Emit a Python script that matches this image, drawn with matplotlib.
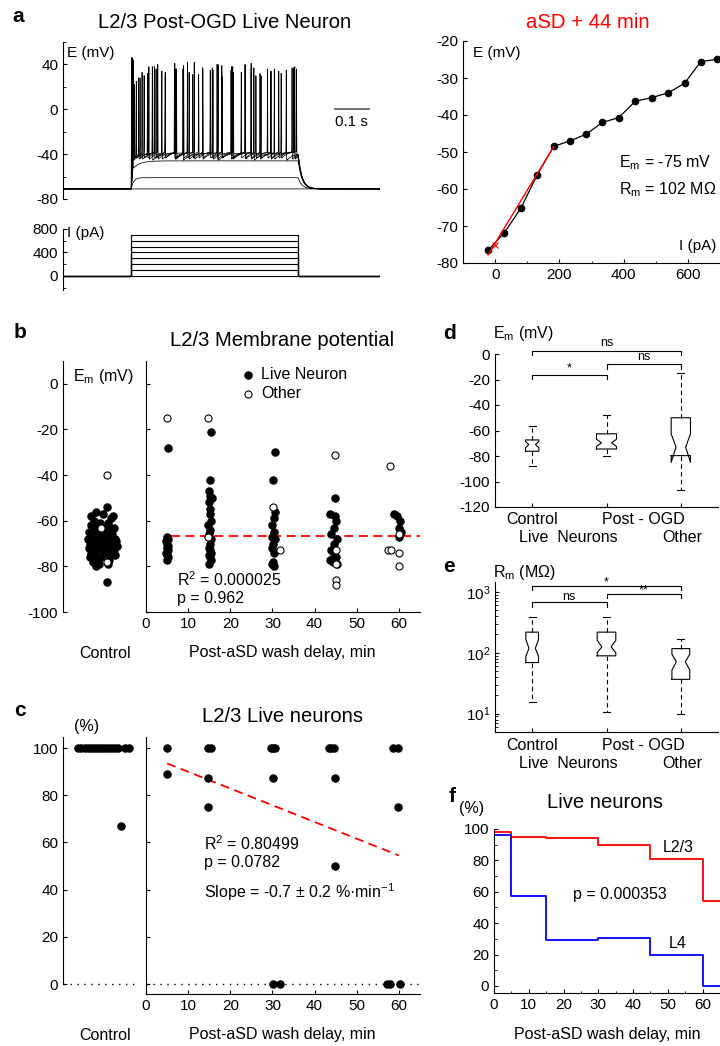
import numpy as np
import matplotlib.pyplot as plt
from matplotlib.ticker import MultipleLocator

plt.rcParams['font.family'] = ['Liberation Sans', 'DejaVu Sans']
plt.rcParams['mathtext.fontset'] = 'custom'
plt.rcParams['mathtext.rm'] = 'Liberation Sans'
plt.rcParams['mathtext.it'] = 'Liberation Sans:italic'
plt.rcParams['mathtext.bf'] = 'Liberation Sans:bold'
plt.rcParams['axes.unicode_minus'] = False
plt.rcParams['font.size'] = 11
plt.rcParams['xtick.direction'] = 'in'
plt.rcParams['ytick.direction'] = 'in'
plt.rcParams['xtick.major.size'] = 3
plt.rcParams['ytick.major.size'] = 3
plt.rcParams['xtick.minor.size'] = 1.8
plt.rcParams['ytick.minor.size'] = 1.8
plt.rcParams['axes.linewidth'] = 0.8

W, H = 720, 1046

# --- a: протокол стимуляції ---
t_on, t_off, t_end = 0.2, 0.69, 0.93
v_rest = -71
i_steps = [0, 100, 200, 300, 400, 500, 600, 700]
v_plat = [-71, -61, -46, -39, -38, -38, -37, -37]
spike_t = [
    [],
    [],
    [0.205],
    [0.206, 0.262, 0.352, 0.455, 0.560, 0.655],
    [0.204, 0.232, 0.278, 0.330, 0.385, 0.440, 0.498, 0.552, 0.610, 0.672],
    [0.203, 0.222, 0.252, 0.290, 0.328, 0.370, 0.410, 0.452, 0.493, 0.535, 0.578, 0.620, 0.680],
    [0.202, 0.215, 0.238, 0.268, 0.300, 0.333, 0.365, 0.398, 0.432, 0.466, 0.500, 0.534,
     0.566, 0.600, 0.633, 0.677],
    [0.201, 0.210, 0.226, 0.248, 0.273, 0.300, 0.327, 0.354, 0.381, 0.410, 0.438, 0.467,
     0.495, 0.523, 0.552, 0.581, 0.610, 0.640, 0.685],
]
spike_pk = [
    [],
    [],
    [44],
    [44, 38, 36, 40, 37, 35],
    [45, 33, 40, 36, 42, 35, 38, 41, 34, 37],
    [46, 28, 38, 34, 41, 33, 37, 40, 35, 39, 32, 36, 38],
    [45, 25, 30, 38, 33, 36, 42, 31, 35, 39, 33, 40, 30, 36, 34, 37],
    [46, 22, 28, 32, 36, 30, 34, 39, 31, 35, 37, 29, 38, 33, 36, 30, 34, 32, 36],
]

# --- a: I-V крива ---
iv_i = [-22, 29, 80, 131, 182, 233, 283, 334, 385, 436, 488, 539, 590, 640, 692]
iv_v = [-76.6, -71.8, -65.2, -56.2, -48.5, -47.0, -45.2, -42.0, -40.7, -36.3,
        -35.3, -34.0, -31.4, -25.6, -24.9]
ivfit_i = [-22, 182]
ivfit_v = [-77.8, -48.6]

# --- b: мембранний потенціал ---
ctrl_em = [-54, -56, -57, -58, -59, -60, -61, -61, -62, -63, -63, -64, -64, -65, -65,
           -66, -66, -67, -67, -68, -68, -68, -69, -69, -70, -70, -70, -71, -71, -71,
           -72, -72, -72, -73, -73, -74, -74, -75, -75, -76, -76, -77, -77, -78, -79,
           -79, -80, -87, -69, -66, -73, -75, -62, -71, -58]
ctrl_jit = [0.57, 0.43, 0.52, 0.65, 0.62, 0.40, 0.48, 0.58, 0.36, 0.55, 0.66, 0.42, 0.60,
            0.34, 0.50, 0.45, 0.63, 0.38, 0.56, 0.33, 0.47, 0.68, 0.41, 0.59, 0.35, 0.52,
            0.64, 0.39, 0.49, 0.61, 0.34, 0.46, 0.57, 0.43, 0.66, 0.37, 0.54, 0.41, 0.62,
            0.35, 0.50, 0.44, 0.60, 0.39, 0.47, 0.58, 0.43, 0.57, 0.69, 0.55, 0.51, 0.67,
            0.45, 0.70, 0.36]
ctrl_oth_em = [-40, -78, -63]
ctrl_oth_jit = [0.57, 0.57, 0.50]

live_t = [5.2, 4.9, 5.3, 4.8, 5.1, 5.3, 4.9, 5.2, 4.8, 5.0, 5.3, 5.1,
          15.4, 15.3, 15.0, 15.2, 15.6, 14.9, 15.3, 15.1, 15.5, 14.8, 15.2, 15.0, 15.4,
          15.1, 14.9, 15.3, 15.5, 15.0, 15.2, 15.4, 14.9,
          30.5, 30.1, 30.6, 30.3, 29.9, 30.4, 30.0, 30.6, 30.2, 29.9, 30.4, 30.1, 29.8, 30.3,
          44.9, 43.6, 44.8, 45.1, 44.5, 43.8, 45.2, 44.6, 43.9, 44.7, 45.0, 43.7, 44.4, 45.3,
          58.8, 59.6, 60.2, 59.9, 60.4, 60.0]
live_em = [-28, -67, -68, -69, -70, -71, -72, -73, -74, -75, -76, -77,
           -21, -42, -47, -49, -50, -52, -55, -57, -60, -62, -64, -66, -68, -70, -72, -73,
           -74, -75, -76, -77, -79,
           -30, -42, -56, -59, -62, -65, -67, -68, -70, -72, -74, -78, -79, -80,
           -50, -57, -58, -60, -63, -66, -68, -70, -73, -75, -76, -77, -78, -79,
           -57, -58, -60, -63, -65, -67]
oth_t = [5.1, 14.8, 14.8, 30.2, 31.8, 44.8, 45.0, 45.0, 45.0, 45.0, 57.9, 60.0, 57.4,
         58.2, 60.1, 60.0]
oth_em = [-15, -15, -67, -54, -73, -31, -73, -79, -86, -88, -36, -66, -73, -73, -74, -80]
bfit_t = [6, 65]
bfit_em = [-66.5, -66.5]

# --- c: частка живих нейронів ---
ctrl_pct = [100, 100, 100, 100, 100, 100, 100, 100, 100, 100, 100, 100, 100, 100, 100, 100, 67]
ctrl_pct_jit = [0.20, 0.24, 0.28, 0.32, 0.36, 0.40, 0.44, 0.48, 0.52, 0.56, 0.60, 0.64,
                0.68, 0.72, 0.80, 0.86, 0.75]
pct_t = [4.9, 4.9, 14.8, 15.4, 14.8, 14.8, 29.7, 30.2, 30.7, 30.2, 30.2, 31.7,
         43.4, 44.0, 44.6, 44.8, 44.8, 58.5, 59.7, 59.8, 57.1, 57.9, 60.3]
pct_val = [100, 89, 100, 100, 87.5, 75, 100, 100, 100, 87.5, 0, 0,
           100, 100, 100, 87.5, 50, 100, 100, 75, 0, 0, 0]
cfit_t = [5, 60]
cfit_pct = [93.5, 54.5]

# --- d, e: боксплоти ---
groups = ['Control', 'Post-OGD live', 'Post-OGD other']
em_box = [
    dict(whishi=-56.6, q3=-67.4, cihi=-68.5, med=-71.0, cilo=-73.5, q1=-76.3, whislo=-87.6),
    dict(whishi=-47.6, q3=-62.6, cihi=-66.8, med=-69.7, cilo=-72.5, q1=-74.5, whislo=-79.7),
    dict(whishi=-15.0, q3=-50.0, cihi=-62.6, med=-73.0, cilo=-85.0, q1=-79.7, whislo=-106.6),
]
rm_box = [
    dict(whishi=390, q3=218, cihi=165, med=118, cilo=88, q1=69, whislo=15.6),
    dict(whishi=380, q3=218, cihi=160, med=125, cilo=100, q1=89, whislo=10.5),
    dict(whishi=167, q3=117, cihi=95, med=71, cilo=52, q1=36.6, whislo=9.8),
]
em_widths = [0.18, 0.27, 0.26]
rm_widths = [0.17, 0.25, 0.24]

# --- f: криві виживання ---
km_t = [0, 5, 15, 30, 45, 60, 65]
km_l23 = [98, 95, 94, 90, 81, 54, 54]
km_l4 = [96, 57, 29.5, 30.5, 20, 0, 0]


fig = plt.figure(figsize=(W / 100, H / 100), dpi=100)


def px_axes(x0, y0, x1, y1):
    return fig.add_axes([x0 / W, 1 - y1 / H, (x1 - x0) / W, (y1 - y0) / H])


def ftext(x, y, s, **kw):
    kw.setdefault('ha', 'center')
    kw.setdefault('va', 'center')
    fig.text(x / W, 1 - y / H, s, **kw)


def clean(ax, bottom=True):
    ax.spines['top'].set_visible(False)
    ax.spines['right'].set_visible(False)
    if not bottom:
        ax.spines['bottom'].set_visible(False)
        ax.set_xticks([])


# ================= a (ліва) =================
t = np.arange(0, t_end, 0.0002)
axv = px_axes(63, 42, 380, 199)
for vp, sts, pks in zip(v_plat, spike_t, spike_pk):
    v = np.full(t.size, float(v_rest))
    on = (t >= t_on) & (t < t_off)
    v[on] = v_rest + (vp - v_rest) * (1 - np.exp(-(t[on] - t_on) / 0.007))
    for ts, pk in zip(sts, pks):
        seg = on & (t >= ts)
        v[seg] = vp - 7 * np.exp(-(t[seg] - ts) / 0.02)
        v += (pk - (vp - 7)) * np.exp(-((t - ts) / 0.0006) ** 2)
    off = t >= t_off
    v_end = v[~off][-1]
    v[off] = v_rest + (v_end - v_rest) * np.exp(-(t[off] - t_off) / 0.011)
    axv.plot(t, v, color='k', lw=0.55)
axv.set_xlim(0, t_end)
axv.set_ylim(-80, 60)
axv.set_yticks([-80, -40, 0, 40])
axv.yaxis.set_minor_locator(MultipleLocator(20))
clean(axv, bottom=False)
axv.plot([0.797, 0.897], [0, 0], color='#555555', lw=1.2)
axv.text(0.847, -5, '0.1 s', ha='center', va='top')
ftext(67, 53, 'E (mV)', ha='left')

axi = px_axes(63, 229, 380, 290)
for lev in i_steps:
    axi.plot([0, t_on, t_on, t_off, t_off, t_end], [0, 0, lev, lev, 0, 0], color='k', lw=0.8)
axi.set_xlim(0, t_end)
axi.set_ylim(-240, 800)
axi.set_yticks([0, 400, 800])
axi.yaxis.set_minor_locator(MultipleLocator(200))
clean(axi, bottom=False)
ftext(67, 233, 'I (pA)', ha='left')

ftext(18, 17, 'a', fontsize=15, fontweight='bold')
ftext(225, 23, 'L2/3 Post-OGD Live Neuron', fontsize=14.6)

# ================= a (права) =================
axr = px_axes(463, 41, 720, 263)
axr.plot(iv_i, iv_v, '-o', color='k', ms=4.5, lw=0.9, clip_on=False)
axr.plot(ivfit_i, ivfit_v, color='red', lw=1.0)
axr.plot([0], [-75], marker='x', color='red', ms=4, mew=0.8)
axr.set_xlim(-100, 700)
axr.set_ylim(-80, -20)
axr.set_xticks([0, 200, 400, 600])
axr.xaxis.set_minor_locator(MultipleLocator(100))
axr.set_yticks(np.arange(-80, -19, 10))
clean(axr)
ftext(473, 53, 'E (mV)', ha='left')
ftext(716, 246, 'I (pA)', ha='right')
ftext(619, 163, 'E$_\\mathrm{m}$ = -75 mV', ha='left', fontsize=11.5)
ftext(619, 190, 'R$_\\mathrm{m}$ = 102 MΩ', ha='left', fontsize=11.5)
ftext(588, 23, 'aSD + 44 min', fontsize=14.6, color='red')

# ================= b =================
axb0 = px_axes(63, 361, 140, 612)
axb0.scatter(ctrl_jit, ctrl_em, s=26, color='k', zorder=3)
axb0.scatter(ctrl_oth_jit, ctrl_oth_em, s=26, facecolor='white', edgecolor='k', lw=0.8, zorder=4)
axb0.set_xlim(0, 1)
axb0.set_ylim(-100, 10)
axb0.set_yticks(np.arange(-100, 1, 20))
clean(axb0, bottom=False)

axb = px_axes(146, 361, 420, 612)
axb.scatter(live_t, live_em, s=26, color='k', zorder=3, label='Live Neuron')
axb.scatter(oth_t, oth_em, s=26, facecolor='white', edgecolor='k', lw=0.8, zorder=4, label='Other')
axb.plot(bfit_t, bfit_em, color='red', lw=1.3, dashes=(5, 3))
axb.set_xlim(0, 65)
axb.set_ylim(-100, 10)
axb.set_yticks(np.arange(-100, 1, 20))
axb.set_yticklabels([])
axb.set_xticks(np.arange(0, 61, 10))
clean(axb)
axb.legend(frameon=False, loc='upper left', bbox_to_anchor=(232 / W, 1 - 361 / H),
           bbox_transform=fig.transFigure, handletextpad=0.2, borderaxespad=0,
           handlelength=1.2, labelspacing=0.25, fontsize=11.5)
ftext(20, 332, 'b', fontsize=15, fontweight='bold')
ftext(282, 340, 'L2/3 Membrane potential', fontsize=14.6)
ftext(73, 376, 'E$_\\mathrm{m}$ (mV)', ha='left', fontsize=11.5)
ftext(177, 580, 'R$^2$ = 0.000025', ha='left', fontsize=11.5)
ftext(177, 598, 'p = 0.962', ha='left', fontsize=11.5)
ftext(105, 653, 'Control', fontsize=11.5)
ftext(282, 653, 'Post-aSD wash delay, min', fontsize=11.5)

# ================= c =================
axc0 = px_axes(63, 737, 140, 994)
axc0.scatter(ctrl_pct_jit, ctrl_pct, s=26, color='k', zorder=3, clip_on=False)
axc0.axhline(0, color='k', lw=1.0, ls=(0, (1, 4)))
axc0.set_xlim(0, 1)
axc0.set_ylim(-4.2, 104.7)
axc0.set_yticks(np.arange(0, 101, 20))
clean(axc0, bottom=False)
axc0.spines['left'].set_bounds(0, 104.7)

axc = px_axes(146, 737, 420, 994)
axc.scatter(pct_t, pct_val, s=26, color='k', zorder=3, clip_on=False)
axc.plot(cfit_t, cfit_pct, color='red', lw=1.3, dashes=(5, 3))
axc.axhline(0, color='k', lw=1.0, ls=(0, (1, 4)))
axc.set_xlim(0, 65)
axc.set_ylim(-4.2, 104.7)
axc.set_yticks(np.arange(0, 101, 20))
axc.set_yticklabels([])
axc.set_xticks(np.arange(0, 61, 10))
clean(axc)
ftext(20, 710, 'c', fontsize=15, fontweight='bold')
ftext(282, 717, 'L2/3 Live neurons', fontsize=14.6)
ftext(87, 726, '(%)', fontsize=11.5)
ftext(204, 844, 'R$^2$ = 0.80499', ha='left', fontsize=11.5)
ftext(204, 863, 'p = 0.0782', ha='left', fontsize=11.5)
ftext(204, 892, 'Slope = -0.7 ± 0.2 %·min$^{-1}$', ha='left', fontsize=11.5)
ftext(105, 1035, 'Control', fontsize=11.5)
ftext(282, 1035, 'Post-aSD wash delay, min', fontsize=11.5)


# ================= d, e =================
def boxes(ax, stats, widths):
    st = [dict(s, fliers=[], label=g) for s, g in zip(stats, groups)]
    ax.bxp(st, positions=[1, 2, 3], widths=widths, shownotches=True, showfliers=False,
           boxprops=dict(color='k', lw=0.8),
           whiskerprops=dict(color='k', lw=0.8, linestyle=(0, (4, 3))),
           capprops=dict(color='k', lw=0.8), medianprops=dict(lw=0),
           capwidths=0.09, manage_ticks=False)
    ax.set_xlim(0.5, 3.5)
    ax.set_xticks([1, 2, 3])
    ax.set_xticklabels([])
    clean(ax)


def bracket(ax, x0, x1, y, leg, label, ly):
    ax.plot([x0, x0, x1, x1], [leg, y, y, leg], color='k', lw=0.8, clip_on=False)
    ax.text((x0 + x1) / 2, ly, label, ha='center', va='center', fontsize=9)


def group_labels(ax, ybot):
    ftext(532, ybot + 13, 'Control', fontsize=11.5)
    ftext(643, ybot + 13, 'Post - OGD', fontsize=11.5)
    ftext(568, ybot + 31, 'Live  Neurons', fontsize=11.5)
    ftext(682, ybot + 31, 'Other', fontsize=11.5)


axd = px_axes(495, 354, 718, 507)
boxes(axd, em_box, em_widths)
axd.set_ylim(-120, 0)
axd.set_yticks(np.arange(-120, 1, 20))
bracket(axd, 1, 3, 2.6, -0.8, 'ns', 8.4)
bracket(axd, 2, 3, -8.2, -11.8, 'ns', -2.6)
bracket(axd, 1, 2, -16.6, -19.7, '*', -11)
group_labels(axd, 507)
ftext(449, 333, 'd', fontsize=15, fontweight='bold')
ftext(493, 333, 'E$_\\mathrm{m}$ (mV)', ha='left', fontsize=11.5)

axe = px_axes(495, 582, 718, 732)
axe.set_yscale('log')
boxes(axe, rm_box, rm_widths)
axe.set_ylim(5, 1450)
bracket(axe, 1, 3, 1239, 1065, '*', 1420)
bracket(axe, 2, 3, 916, 778, '**', 1040)
bracket(axe, 1, 2, 677, 568, 'ns', 820)
group_labels(axe, 732)
ftext(449, 566, 'e', fontsize=15, fontweight='bold')
ftext(493, 572, 'R$_\\mathrm{m}$ (MΩ)', ha='left', fontsize=11.5)

# ================= f =================
axf = px_axes(494, 829, 720, 993)
axf.step(km_t, km_l23, where='post', color='red', lw=1.3)
axf.step(km_t, km_l4, where='post', color='blue', lw=1.3)
axf.set_xlim(0, 65)
axf.set_ylim(-4.5, 100)
axf.set_yticks(np.arange(0, 101, 20))
axf.yaxis.set_minor_locator(MultipleLocator(10))
axf.set_xticks(np.arange(0, 61, 10))
axf.xaxis.set_minor_locator(MultipleLocator(5))
clean(axf)
axf.spines['left'].set_bounds(-4.5, 100)
ftext(452, 797, 'f', fontsize=15, fontweight='bold')
ftext(605, 803, 'Live neurons', fontsize=14.6)
ftext(472, 809, '(%)', fontsize=11.5)
ftext(678, 847, 'L2/3', fontsize=11.5)
ftext(678, 943, 'L4', fontsize=11.5)
ftext(620, 895, 'p = 0.000353', fontsize=11.5)
ftext(607, 1035, 'Post-aSD wash delay, min', fontsize=11.5)

fig.savefig('out.png', dpi=100)
